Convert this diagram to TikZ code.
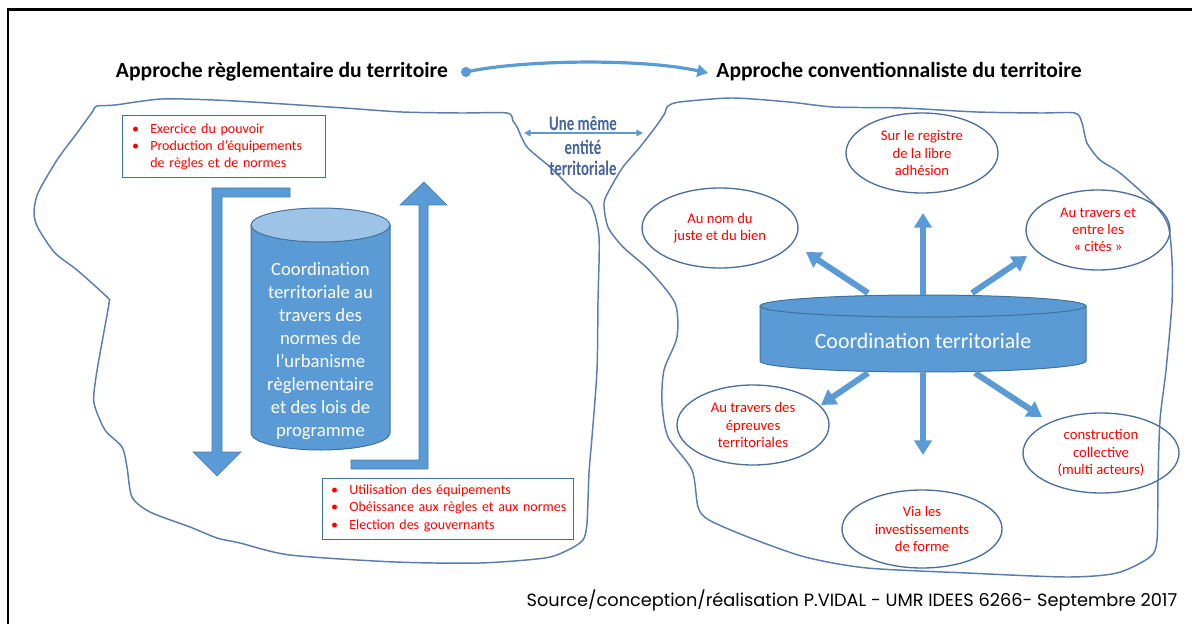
\documentclass[tikz,border=0pt]{standalone}
\usepackage{graphicx}
\usepackage{fontspec}
\setmainfont{Carlito}
\newfontfamily\footfont{Poppins}
\newfontfamily\condfont[FakeStretch=0.72]{Carlito}
\usetikzlibrary{arrows.meta,shapes.geometric}
\definecolor{bfill}{HTML}{5B9BD5}
\definecolor{btop}{HTML}{9DC3E6}
\definecolor{bedge}{HTML}{41719C}
\definecolor{blobc}{HTML}{5A7DB0}
\definecolor{ellc}{HTML}{4A6E9E}
\definecolor{unec}{HTML}{44649A}
\definecolor{rtxt}{HTML}{FF0000}
\tikzset{
  blobline/.style={draw=blobc, line width=1.1pt, line join=round},
  redbox/.style={draw=bedge, line width=0.75pt, text=rtxt, align=left, inner ysep=0pt,
     font=\fontsize{10.5}{13.1}\selectfont},
  bub/.style={ellipse, draw=ellc, line width=1pt, text=rtxt, align=center, inner sep=0pt,
     font=\fontsize{11}{12.9}\selectfont},
  radarrow/.style={draw=bfill, line width=4.5pt, -{Triangle[width=13pt,length=11pt]}},
  blockarrow/.style={fill=bfill, draw=bedge!70!bfill, line width=0.5pt},
  cyl/.style={fill=bfill, draw=bedge, line width=0.75pt},
  titlefont/.style={font=\fontsize{16.2}{18}\selectfont\bfseries, inner sep=0pt},
  unefont/.style={text=unec, font=\condfont\bfseries\fontsize{15.5}{17}\selectfont, inner sep=0pt},
}
\begin{document}
\begin{tikzpicture}[x=0.75pt,y=-0.75pt]
\useasboundingbox (0,0) rectangle (1192,624);
% frame
\draw[line width=2pt] (8,624) -- (8,9.5) -- (1192,9.5);

% titles
\node[titlefont] (tl) at (282,72) {Approche règlementaire du territoire};
\node[titlefont] (tr) at (899,72) {Approche conventionnaliste du territoire};
\coordinate (dotA) at (466,72);
\coordinate (endA) at (708,73);
\fill[bfill] (dotA) circle (3.8pt);
\draw[bfill, line width=2.4pt, -{Triangle[width=9pt,length=8pt]}]
  (dotA) .. controls (520,60) and (640,58) .. (endA);

% left blob
\draw[blobline] plot[smooth, tension=0.45] coordinates {
 (93,111) (97,106) (115,105) (161,99) (214,100) (268,103) (344,108) (402,112)
 (460,113) (507,113) (513,121) (517,127) (527,147) (550,167) (573,190) (591,205)
 (599,237) (598,300) (597,370) (592,437) (589,473) (587,523) (583,540) (568,550)
 (545,558) (480,563) (395,562) (290,555) (240,543) (217,538) (190,527) (150,512)
 (132,497) (127,467) (122,447) (105,430) (94,403) (96,377) (103,337) (109,303)
 (107,297) (77,270) (55,253) (38,228) (34,213) (38,193) (57,160) (77,133) (93,111)};

% right blob
\draw[blobline] plot[smooth, tension=0.45] coordinates {
 (665,113) (668,106) (680,102) (732,98) (789,102) (834,107) (902,108) (977,112)
 (1040,113) (1075,113) (1082,123) (1087,143) (1100,160) (1120,173) (1153,203)
 (1168,225) (1172,260) (1172,303) (1166,370) (1160,420) (1158,480) (1157,540)
 (1150,557) (1117,573) (1067,577) (967,573) (867,568) (805,557) (748,537)
 (709,520) (698,507) (692,470) (668,437) (662,403) (664,370) (677,337) (675,303)
 (649,270) (623,247) (608,227) (604,203) (611,187) (623,167) (640,147) (657,125)
 (665,113)};

% une meme entite
\coordinate (uA) at (524,133);
\coordinate (uB) at (643,133);
\draw[bfill, line width=1.2pt, {Triangle[width=5pt,length=5pt]}-{Triangle[width=5pt,length=5pt]}] (uA) -- (uB);
\node[unefont] (une1) at (583,124) {Une même};
\node[unefont] (une2) at (583,147) {entité};
\node[unefont] (une3) at (583,168) {territoriale};

% red boxes
\node[redbox, minimum width=152.25pt, minimum height=46.5pt, text width=137.25pt, inner xsep=7.5pt] (box1) at (223.5,147)
 {\begin{tabular}{@{}l@{\hspace{8.5pt}}l@{}}•&Exercice du pouvoir\\ •&Production d’équipements\\ &de règles et de normes\end{tabular}};
\node[redbox, minimum width=188.25pt, minimum height=45.75pt, text width=174.75pt, inner xsep=6.75pt] (box2) at (447.5,508.5)
 {\begin{tabular}{@{}l@{\hspace{8.5pt}}l@{}}•&Utilisation des équipements\\ •&Obéissance aux règles et aux normes\\ •&Election des gouvernants\end{tabular}};

% bent block arrows
\path[blockarrow] (212,188) -- (290,188) -- (290,197) -- (222,197) -- (222,452) -- (241,452)
  -- (217,476) -- (193,452) -- (212,452) -- cycle;
\path[blockarrow] (419,205) -- (400,205) -- (424,182) -- (447,205) -- (428,205) -- (428,469)
  -- (351,469) -- (351,460) -- (419,460) -- cycle;

% left cylinder
\path[cyl] (251,225) -- (251,433) arc[start angle=180, end angle=0, x radius=69.5, y radius=17] -- (390,225) -- cycle;
\path[fill=btop, draw=bedge, line width=0.75pt] (320.5,225) ellipse [x radius=69.5, y radius=17];
\node[text=white, align=center, font=\fontsize{14}{17.25}\selectfont, inner sep=0pt] (lcyl) at (320.5,351)
 {Coordination\\territoriale au\\travers des\\normes de\\l’urbanisme\\règlementaire\\et des lois de\\programme};

% right cylinder
\path[cyl] (760,306) -- (760,361) arc[start angle=180, end angle=0, x radius=163, y radius=11] -- (1086,306) -- cycle;
\path[cyl] (923,306) ellipse [x radius=163, y radius=11];
\node[text=white, font=\fontsize{16.4}{18}\selectfont, inner sep=0pt] (rcyl) at (923,341) {Coordination territoriale};

% radial arrows
\coordinate (sU) at (923,295);  \coordinate (tU) at (923,213);
\coordinate (sUL) at (868,293); \coordinate (tUL) at (806,252);
\coordinate (sUR) at (972,293); \coordinate (tUR) at (1027,256);
\coordinate (sD) at (923,373);  \coordinate (tD) at (923,455);
\coordinate (sDL) at (868,373); \coordinate (tDL) at (821,405);
\coordinate (sDR) at (975,373); \coordinate (tDR) at (1042,417);
\foreach \s/\t in {sU/tU, sUL/tUL, sUR/tUR, sD/tD, sDL/tDL, sDR/tDR}
  \draw[radarrow] (\s) -- (\t);

% bubbles
\node[bub, minimum width=114pt, minimum height=60pt] (e1) at (922,153) {Sur le registre\\de la libre\\adhésion};
\node[bub, minimum width=117pt, minimum height=60pt] (e2) at (720,228) {Au nom du\\juste et du bien};
\node[bub, minimum width=108pt, minimum height=60pt] (e3) at (1098,230) {Au travers et\\entre les\\« cités »};
\node[bub, minimum width=114pt, minimum height=60pt] (e4) at (753,425) {Au travers des\\épreuves\\territoriales};
\node[bub, minimum width=117pt, minimum height=60pt] (e5) at (1101,453) {construction\\collective\\(multi acteurs)};
\node[bub, minimum width=120pt, minimum height=58.5pt] (e6) at (922,529) {Via les\\investissements\\de forme};

% footer
\node[inner sep=0pt] (foot) at (852,600) {\footfont\resizebox{488pt}{!}{Source/conception/réalisation P.VIDAL - UMR IDEES 6266- Septembre 2017}};
\end{tikzpicture}
\end{document}
